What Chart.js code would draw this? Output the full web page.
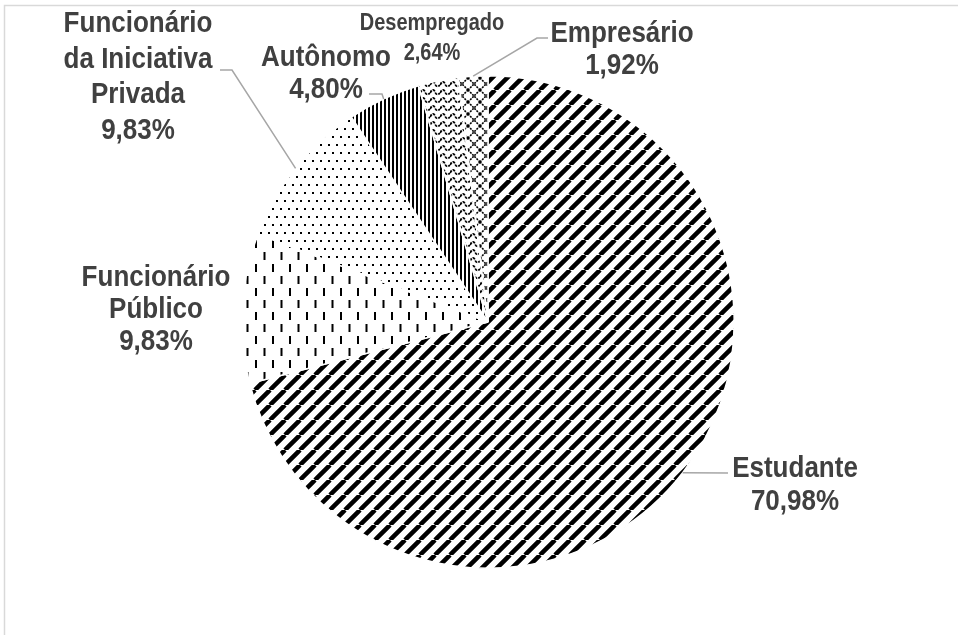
<!DOCTYPE html>
<html>
<head>
<meta charset="utf-8">
<script src="https://cdn.jsdelivr.net/npm/chart.js@4"></script>
<style>
  html, body { margin: 0; padding: 0; background: #fff; }
  #wrap { position: relative; width: 958px; height: 635px; }
</style>
</head>
<body>
<div id="wrap"><canvas id="pieChart" width="958" height="635"></canvas></div>
<script>
// ocupação dos respondentes (%)
const categories = ["Estudante", "Funcionário Público", "Funcionário da Iniciativa Privada", "Autônomo", "Desempregado", "Empresário"];
const percents = [70.98, 9.83, 9.83, 4.80, 2.64, 1.92];
const labelLines = [
  ["Estudante"],
  ["Funcionário", "Público"],
  ["Funcionário", "da Iniciativa", "Privada"],
  ["Autônomo"],
  ["Desempregado"],
  ["Empresário"]
];

const textColor = "#404040";
const leaderColor = "#a6a6a6";
const fontFamily = "'Liberation Sans', Arial, sans-serif";
const textStretch = 1.15; // labels are drawn a bit taller than wide

// where each label sits: centre x, first baseline, line step, font size, leader bends
const labelLayout = [
  { x: 795, y: 477, step: 33, size: 26, leader: [[728, 473]] },
  { x: 156, y: 286, step: 32, size: 26, leader: null },
  { x: 138, y: 32, step: 35.5, size: 26, leader: [[220, 70], [232, 70]] },
  { x: 326, y: 66, step: 32, size: 26, leader: [[369, 94], [382, 94]] },
  { x: 432, y: 30, step: 30, size: 20, leader: null },
  { x: 622, y: 42, step: 32, size: 26, leader: [[548, 38], [537, 38]] }
];

function tile(w, h, draw) {
  const c = document.createElement("canvas");
  c.width = w;
  c.height = h;
  const g = c.getContext("2d");
  g.fillStyle = "#fff";
  g.fillRect(0, 0, w, h);
  g.fillStyle = "#000";
  g.strokeStyle = "#000";
  draw(g, w, h);
  return document.createElement("canvas").getContext("2d").createPattern(c, "repeat");
}

// wide diagonal stripes
const stripes = tile(15, 15, (g, s) => {
  g.lineWidth = 4.5;
  g.beginPath();
  for (let k = -1; k <= 1; k++) {
    g.moveTo(k * s, s);
    g.lineTo(k * s + s, 0);
  }
  g.stroke();
});

// short vertical dashes, staggered
const dashes = tile(17, 24, (g) => {
  g.fillRect(0, 0, 2, 8);
  g.fillRect(8.5, 12, 2, 8);
});

// small dots
const dots = tile(8, 16, (g) => {
  g.fillRect(0, 0, 2, 2);
  g.fillRect(4, 8, 2, 2);
});

// narrow vertical stripes
const vlines = tile(4, 4, (g) => {
  g.fillRect(0, 0, 2, 4);
});

// little waves
const waves = tile(10, 8, (g) => {
  g.lineWidth = 1.8;
  g.setLineDash([3, 1]);
  g.beginPath();
  g.moveTo(0, 5);
  g.bezierCurveTo(2, 1, 4, 1, 5, 4);
  g.bezierCurveTo(6, 7, 8, 7, 10, 5);
  g.stroke();
});

// dotted diamond lattice
const lattice = tile(12, 12, (g) => {
  g.lineWidth = 1.6;
  g.setLineDash([2, 1]);
  g.beginPath();
  g.moveTo(0, 6); g.lineTo(6, 0); g.lineTo(12, 6);
  g.moveTo(0, 6); g.lineTo(6, 12); g.lineTo(12, 6);
  g.stroke();
});

const fills = [stripes, dashes, dots, vlines, waves, lattice];

function fmt(v) {
  return v.toFixed(2).replace(".", ",") + "%";
}

const frame = {
  id: "frame",
  beforeDraw(chart) {
    const ctx = chart.ctx;
    ctx.save();
    ctx.strokeStyle = "#d9d9d9";
    ctx.lineWidth = 1.5;
    ctx.strokeRect(4.5, 5.5, 1200, 1000);
    ctx.restore();
  }
};

const sliceLabels = {
  id: "sliceLabels",
  afterDatasetsDraw(chart) {
    const ctx = chart.ctx;
    const arcs = chart.getDatasetMeta(0).data;
    ctx.save();
    arcs.forEach((arc, i) => {
      const lay = labelLayout[i];
      const p = arc.getProps(["x", "y", "startAngle", "endAngle", "outerRadius"], true);
      const mid = (p.startAngle + p.endAngle) / 2;
      if (lay.leader) {
        ctx.strokeStyle = leaderColor;
        ctx.lineWidth = 1.5;
        ctx.beginPath();
        lay.leader.forEach((pt, j) => (j ? ctx.lineTo(pt[0], pt[1]) : ctx.moveTo(pt[0], pt[1])));
        ctx.lineTo(p.x + Math.cos(mid) * p.outerRadius, p.y + Math.sin(mid) * p.outerRadius);
        ctx.stroke();
      }
      const lines = labelLines[i].concat([fmt(percents[i])]);
      ctx.fillStyle = textColor;
      ctx.font = "bold " + lay.size + "px " + fontFamily;
      ctx.textAlign = "center";
      ctx.textBaseline = "alphabetic";
      lines.forEach((t, j) => {
        ctx.save();
        ctx.translate(lay.x, lay.y + j * lay.step);
        ctx.scale(1, textStretch);
        ctx.fillText(t, 0, 0);
        ctx.restore();
      });
    });
    ctx.restore();
  }
};

new Chart(document.getElementById("pieChart"), {
  type: "pie",
  data: {
    labels: categories,
    datasets: [{
      data: percents,
      backgroundColor: fills,
      borderColor: "#ffffff",
      borderWidth: 1.5
    }]
  },
  options: {
    responsive: false,
    animation: false,
    layout: { padding: { left: 241, right: 223, top: 75, bottom: 66 } },
    plugins: {
      legend: { display: false },
      tooltip: { enabled: false }
    }
  },
  plugins: [frame, sliceLabels]
});
</script>
</body>
</html>
